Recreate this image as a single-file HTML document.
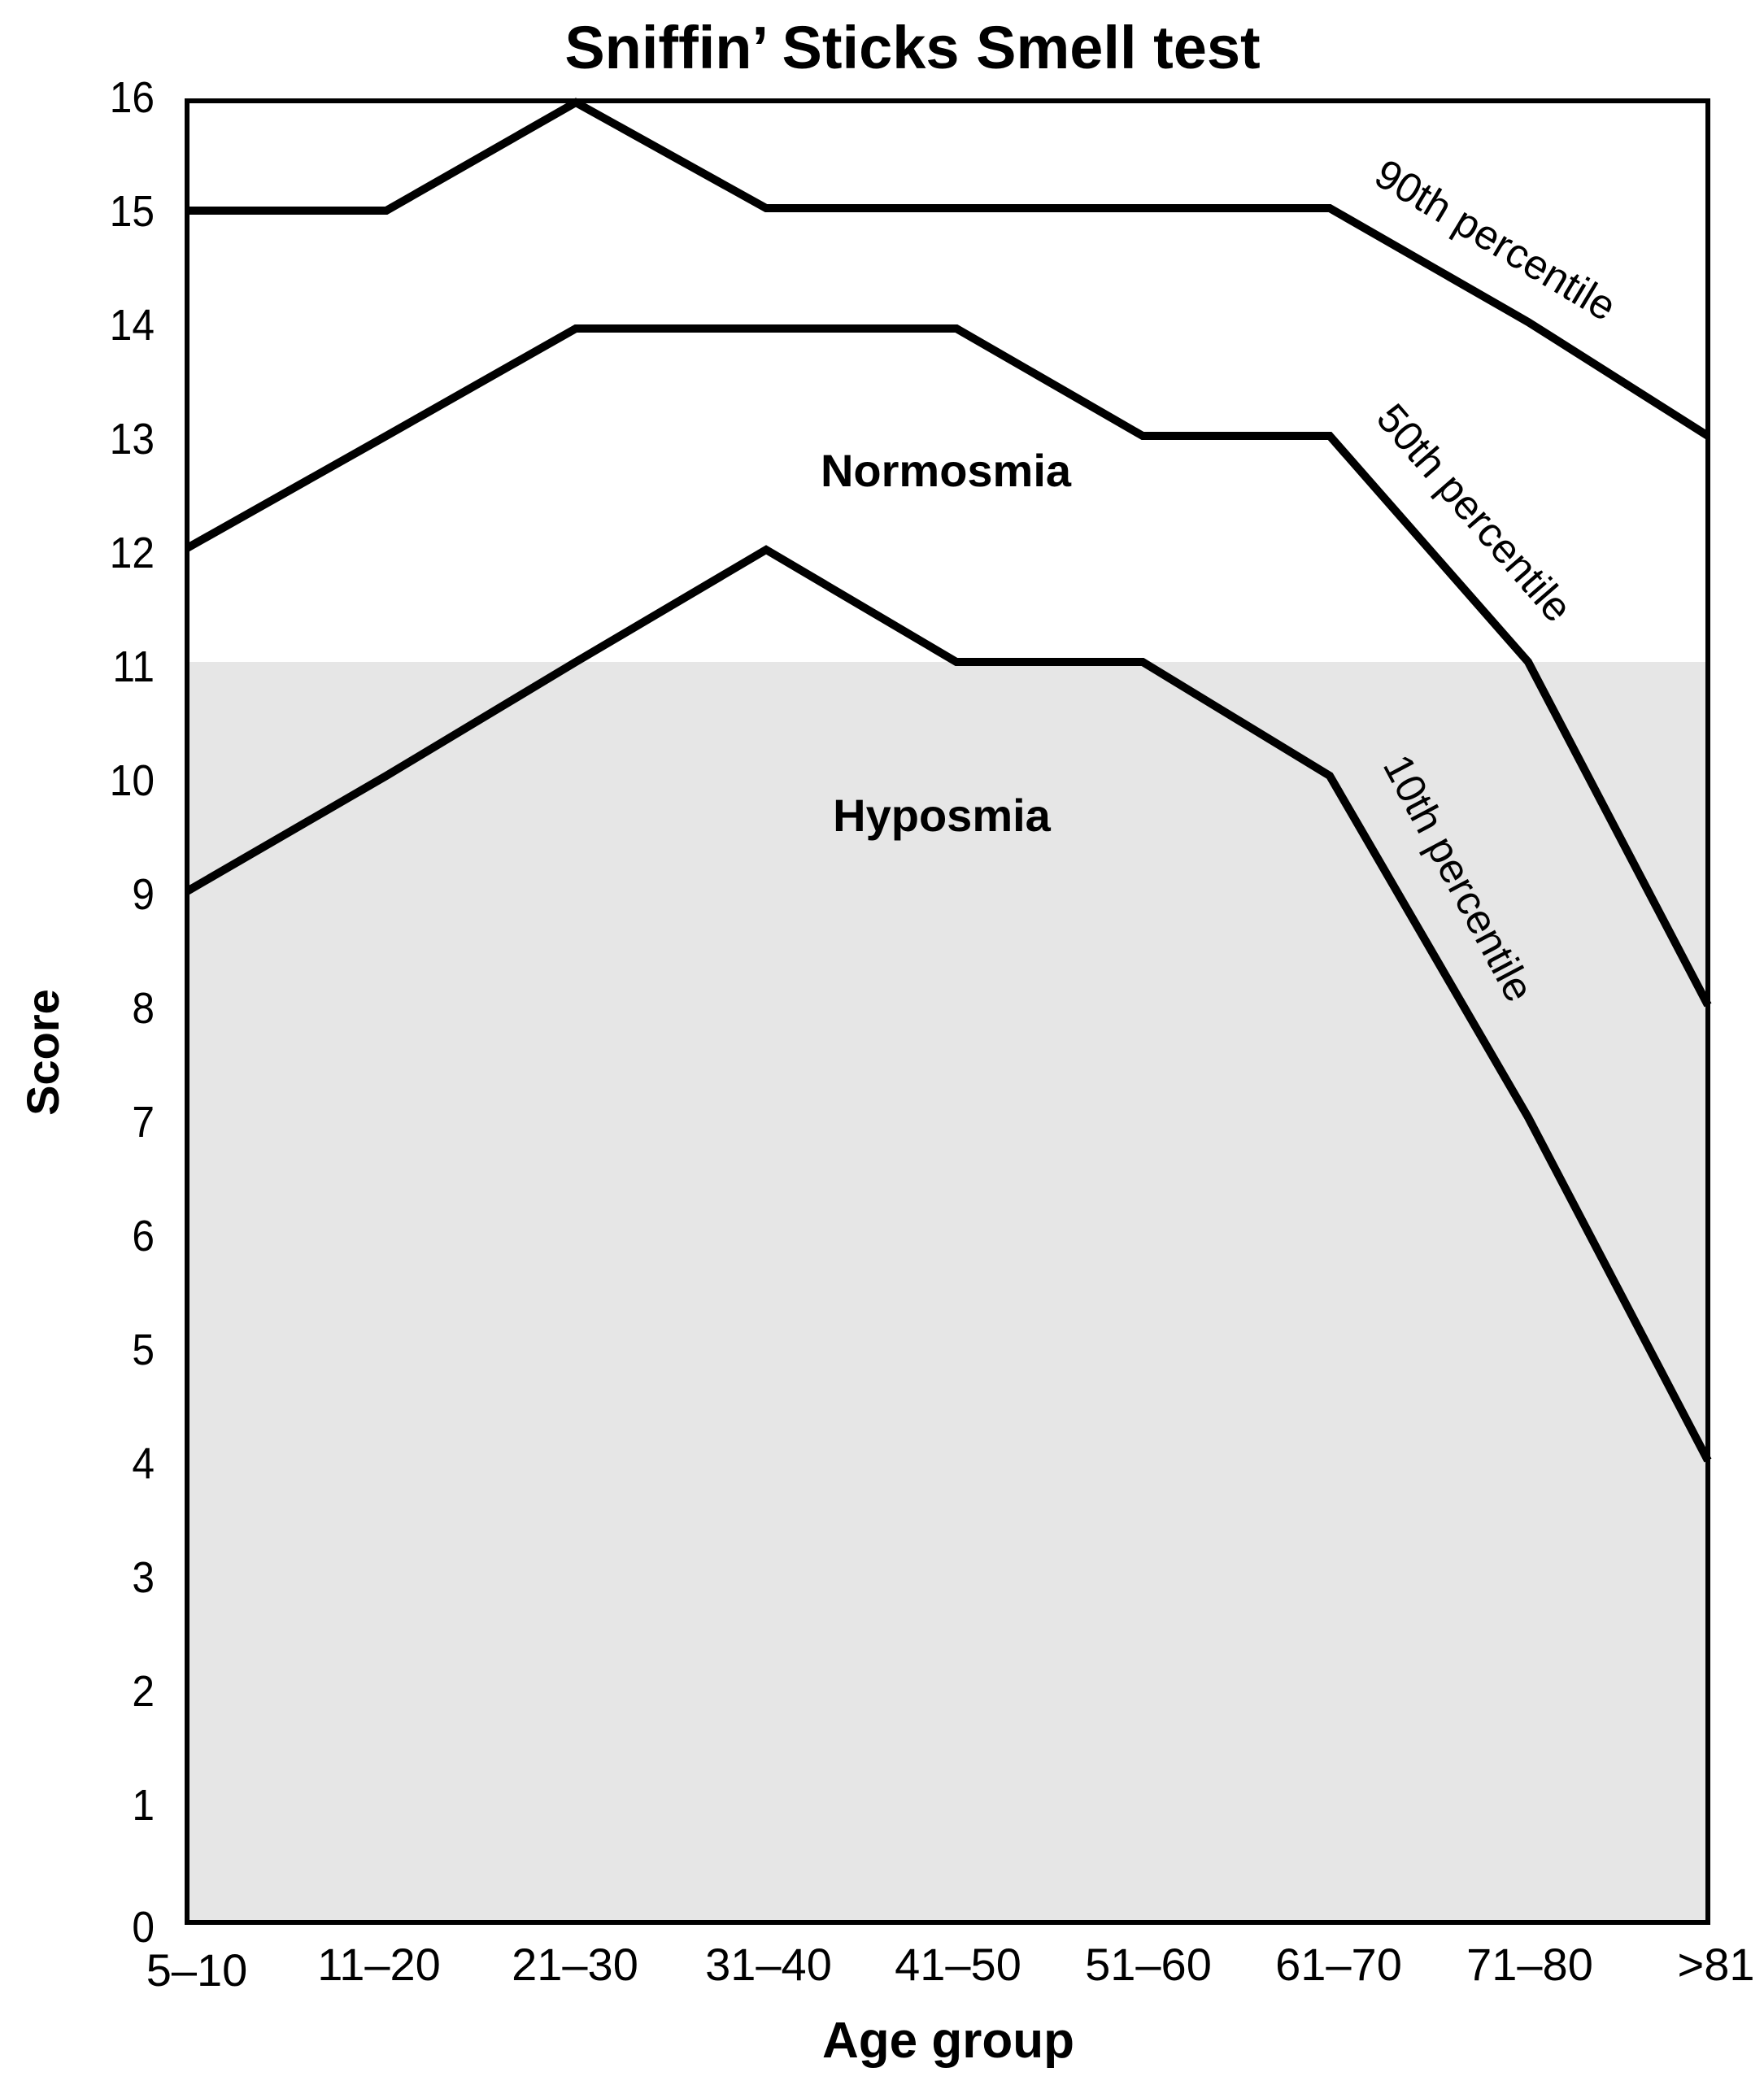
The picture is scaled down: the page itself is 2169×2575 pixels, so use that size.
<!DOCTYPE html>
<html><head><meta charset="utf-8"><style>
html,body{margin:0;padding:0;background:#fff;}
svg{display:block;font-family:"Liberation Sans",Arial,sans-serif;}
</style></head><body>
<svg width="2169" height="2575" viewBox="0 0 2169 2575" xmlns="http://www.w3.org/2000/svg">
<rect x="0" y="0" width="2169" height="2575" fill="#fff"/>
<rect x="230" y="814" width="1870" height="1550" fill="#e6e6e6"/>
<rect x="230" y="124" width="1870" height="2240" fill="none" stroke="#000" stroke-width="6"/>
<g fill="none" stroke="#000" stroke-width="10" stroke-linejoin="miter">
<polyline points="230,259 475,259 708,126 942,256 1176,256 1405,256 1635,256 1879,396 2100,536"/>
<polyline points="230,674 475,536 708,404 942,404 1176,404 1405,536 1635,536 1879,814 2100,1236"/>
<polyline points="230,1096 475,954 708,814 942,676 1176,814 1405,814 1635,954 1879,1374 2100,1796"/>
</g>
<g font-size="54" text-anchor="end" fill="#000" transform="translate(190,0) scale(0.92,1) translate(-190,0)">
<text x="190" y="138">16</text><text x="190" y="278">15</text><text x="190" y="418">14</text><text x="190" y="558">13</text><text x="190" y="698">12</text><text x="190" y="838">11</text><text x="190" y="978">10</text><text x="190" y="1118">9</text><text x="190" y="1258">8</text><text x="190" y="1398">7</text><text x="190" y="1538">6</text><text x="190" y="1678">5</text><text x="190" y="1818">4</text><text x="190" y="1958">3</text><text x="190" y="2098">2</text><text x="190" y="2238">1</text><text x="190" y="2388">0</text>
</g>
<g font-size="56" text-anchor="middle" fill="#000">
<text x="242" y="2442">5–10</text><text x="466" y="2435">11–20</text><text x="707" y="2435">21–30</text><text x="945" y="2435">31–40</text><text x="1178" y="2435">41–50</text><text x="1412" y="2435">51–60</text><text x="1646" y="2435">61–70</text><text x="1881" y="2435">71–80</text><text x="2110" y="2435">&gt;81</text>
</g>
<text x="1122" y="84" font-size="74" font-weight="bold" text-anchor="middle">Sniffin’ Sticks Smell test</text>
<text x="1166" y="2530" font-size="62" font-weight="bold" text-anchor="middle">Age group</text>
<text transform="translate(72,1294) rotate(-90)" font-size="56" font-weight="bold" text-anchor="middle">Score</text>
<text x="1163" y="598" font-size="56" font-weight="bold" text-anchor="middle">Normosmia</text>
<text x="1158" y="1022" font-size="56" font-weight="bold" text-anchor="middle">Hyposmia</text>
<g font-size="51" text-anchor="middle">
<text transform="translate(1830,310) rotate(31)">90th percentile</text>
<text transform="translate(1800,642) rotate(49)">50th percentile</text>
<text transform="translate(1778,1088) rotate(62)">10th percentile</text>
</g>
</svg>
</body></html>
